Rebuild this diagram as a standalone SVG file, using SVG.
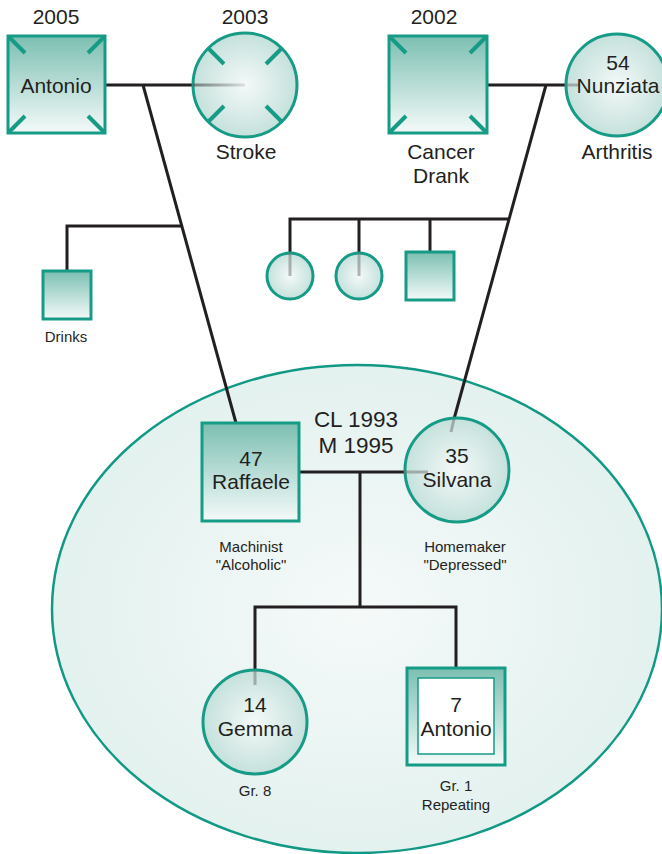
<svg xmlns="http://www.w3.org/2000/svg" width="662" height="854" viewBox="0 0 662 854">
  <defs>
    <linearGradient id="sqFill" x1="0" y1="0" x2="0" y2="1">
      <stop offset="0" stop-color="#7cbfb2"/>
      <stop offset="1" stop-color="#f4faf9"/>
    </linearGradient>
    <radialGradient id="circFill" cx="0.5" cy="0.5" r="0.5">
      <stop offset="0" stop-color="#f4f9f8"/>
      <stop offset="1" stop-color="#c5e1dc"/>
    </radialGradient>
    <radialGradient id="bigFill" cx="0.5" cy="0.5" r="0.5">
      <stop offset="0" stop-color="#f5faf9"/>
      <stop offset="1" stop-color="#e3f1ef"/>
    </radialGradient>
    <linearGradient id="fadeH" gradientUnits="userSpaceOnUse" x1="193" y1="0" x2="245" y2="0">
      <stop offset="0" stop-color="#555" stop-opacity="0.7"/>
      <stop offset="1" stop-color="#555" stop-opacity="0.15"/>
    </linearGradient>
    <style>
      .sq { fill: url(#sqFill); stroke: #169b86; stroke-width: 3; }
      .ci { fill: url(#circFill); stroke: #169b86; stroke-width: 3; }
      .tick { stroke: #169b86; stroke-width: 4; fill: none; }
      .inner { stroke: #6f6f6f; stroke-opacity: 0.5; stroke-width: 3; fill: none; }
      .conn { stroke: #231f20; stroke-width: 3; fill: none; }
      text { font-family: "Liberation Sans", Arial, Helvetica, sans-serif; fill: #231f20; text-anchor: middle; }
      .big { font-size: 21px; }
      .mid { font-size: 22.5px; }
      .small { font-size: 15px; }
    </style>
  </defs>

  <!-- household boundary -->
  <ellipse id="household" cx="357" cy="609" rx="305" ry="244" fill="url(#bigFill)" stroke="#129985" stroke-width="2.5"/>

  <!-- connectors -->
  <g id="connectors">
    <line class="conn" x1="105" y1="85" x2="193" y2="85"/>
    <line class="conn" x1="143" y1="85" x2="236" y2="423"/>
    <polyline class="conn" points="182,226 67,226 67,271"/>
    <line class="conn" x1="487" y1="85" x2="566" y2="85"/>
    <line class="conn" x1="546" y1="85" x2="454" y2="419"/>
    <polyline class="conn" points="509,219 290,219 290,252"/>
    <line class="conn" x1="359" y1="219" x2="359" y2="252"/>
    <line class="conn" x1="430" y1="219" x2="430" y2="252"/>
    <line class="conn" x1="299" y1="472" x2="404" y2="472"/>
    <line class="conn" x1="360" y1="472" x2="360" y2="607"/>
    <polyline class="conn" points="255,670 255,607 456,607 456,668"/>
  </g>

  <!-- grandfather, paternal -->
  <g id="antonio-sr">
    <rect class="sq" x="8" y="36" width="97" height="97"/>
    <path class="tick" d="M9 37 L25 53 M104 37 L88 53 M9 132 L25 116 M104 132 L88 116"/>
    <text class="big" x="56" y="24">2005</text>
    <text class="big" x="56" y="93">Antonio</text>
  </g>

  <!-- grandmother, paternal -->
  <g id="stroke-gm">
    <circle class="ci" cx="245" cy="85" r="52"/>
    <path class="tick" d="M224 64 L209 49 M266 64 L281 49 M224 106 L209 121 M266 106 L281 121"/>
    <line x1="193" y1="85" x2="245" y2="85" stroke="url(#fadeH)" stroke-width="3"/>
    <text class="big" x="245" y="24">2003</text>
    <text class="big" x="246" y="159">Stroke</text>
  </g>

  <!-- paternal uncle -->
  <g id="drinks-uncle">
    <rect class="sq" x="43" y="271" width="48" height="48"/>
    <text class="small" x="66" y="342">Drinks</text>
  </g>

  <!-- grandfather, maternal -->
  <g id="cancer-gf">
    <rect class="sq" x="389" y="36" width="98" height="97"/>
    <path class="tick" d="M390 37 L406 53 M486 37 L470 53 M390 132 L406 116 M486 132 L470 116"/>
    <text class="big" x="434" y="24">2002</text>
    <text class="big" x="441" y="159">Cancer</text>
    <text class="big" x="441" y="183">Drank</text>
  </g>

  <!-- grandmother, maternal -->
  <g id="nunziata">
    <circle class="ci" cx="617" cy="85" r="51"/>
    <line class="inner" x1="566" y1="85" x2="580" y2="85"/>
    <text class="big" x="618" y="70">54</text>
    <text class="big" x="618" y="93">Nunziata</text>
    <text class="big" x="617" y="159">Arthritis</text>
  </g>

  <!-- maternal siblings -->
  <g id="aunt-1">
    <circle class="ci" cx="290" cy="276" r="23"/>
    <line class="inner" x1="290" y1="253" x2="290" y2="276"/>
  </g>
  <g id="aunt-2">
    <circle class="ci" cx="359" cy="276" r="23"/>
    <line class="inner" x1="359" y1="253" x2="359" y2="276"/>
  </g>
  <g id="uncle-m">
    <rect class="sq" x="406" y="252" width="48" height="48"/>
  </g>

  <!-- couple label -->
  <g id="union">
    <text class="mid" x="356" y="427">CL 1993</text>
    <text class="mid" x="356" y="453">M 1995</text>
  </g>

  <!-- father -->
  <g id="raffaele">
    <rect class="sq" x="202" y="423" width="97" height="98"/>
    <text class="big" x="251" y="466">47</text>
    <text class="big" x="251" y="489">Raffaele</text>
    <text class="small" x="251" y="552">Machinist</text>
    <text class="small" x="251" y="570">"Alcoholic"</text>
  </g>

  <!-- mother -->
  <g id="silvana">
    <circle class="ci" cx="457" cy="470" r="52"/>
    <line class="inner" x1="404" y1="472" x2="428" y2="472"/>
    <line class="inner" x1="454" y1="419" x2="451" y2="432"/>
    <text class="big" x="457" y="463">35</text>
    <text class="big" x="457" y="487">Silvana</text>
    <text class="small" x="465" y="552">Homemaker</text>
    <text class="small" x="465" y="570">"Depressed"</text>
  </g>

  <!-- daughter -->
  <g id="gemma">
    <circle class="ci" cx="255" cy="722" r="52"/>
    <line class="inner" x1="255" y1="670" x2="255" y2="685"/>
    <text class="big" x="255" y="712">14</text>
    <text class="big" x="255" y="736">Gemma</text>
    <text class="small" x="255" y="796">Gr. 8</text>
  </g>

  <!-- son (identified patient) -->
  <g id="antonio-jr">
    <rect class="sq" x="407" y="668" width="98" height="97"/>
    <rect x="418" y="678" width="76" height="76" fill="#ffffff" stroke="#169b86" stroke-width="1.5"/>
    <text class="big" x="456" y="712">7</text>
    <text class="big" x="456" y="736">Antonio</text>
    <text class="small" x="456" y="791">Gr. 1</text>
    <text class="small" x="456" y="810">Repeating</text>
  </g>
</svg>
